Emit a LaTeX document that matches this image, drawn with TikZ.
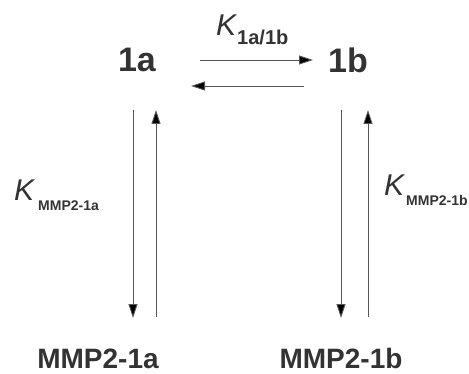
\documentclass[tikz,border=0pt]{standalone}
\usepackage{fontspec}
\setmainfont{Liberation Sans}
\usetikzlibrary{arrows.meta}
\definecolor{txt}{HTML}{333333}
\definecolor{ln}{HTML}{555555}
\begin{document}
\begin{tikzpicture}[x=1pt,y=1pt,
  big/.style={font=\fontsize{34}{36}\selectfont\bfseries, text=txt, inner sep=0pt},
  prod/.style={font=\fontsize{28}{32}\selectfont\bfseries, text=txt, inner sep=0pt},
  klab/.style={font=\fontsize{30}{32}\selectfont\itshape, text=txt, inner sep=0pt},
  arr/.style={draw=ln, line width=0.9pt, -{Triangle[length=14pt,width=9pt,fill=black]}}]
\useasboundingbox (0,0) rectangle (469,373);
\node[big] (a) at (137,313) {1a};
\node[big] (b) at (348,313) {1b};
\node[prod, anchor=base] (ma) at (98,5) {MMP2-1a};
\node[prod, anchor=base] (mb) at (341,5) {MMP2-1b};
\node[klab, anchor=base west] (k1) at (216,337) {K\kern1pt\fontsize{20}{22}\selectfont\upshape\bfseries\raisebox{-9pt}{1a/1b}};
\node[klab, anchor=base west] (k2) at (14,173) {K\kern4pt\fontsize{14}{16}\selectfont\upshape\bfseries\raisebox{-10pt}{MMP2-1a}};
\node[klab, anchor=base west] (k3) at (384,178) {K\kern2pt\fontsize{14}{16}\selectfont\upshape\bfseries\raisebox{-10pt}{MMP2-1b}};
\coordinate (t1) at (200,313);
\coordinate (t2) at (313,313);
\coordinate (u1) at (304,287);
\coordinate (u2) at (191,287);
\coordinate (la1) at (133,263);
\coordinate (la2) at (133,55);
\coordinate (lb1) at (156,56);
\coordinate (lb2) at (156,263);
\coordinate (ra1) at (341,263);
\coordinate (ra2) at (341,55);
\coordinate (rb1) at (368,56);
\coordinate (rb2) at (368,263);
\draw[arr] (t1) -- (t2);
\draw[arr] (u1) -- (u2);
\draw[arr] (la1) -- (la2);
\draw[arr] (lb1) -- (lb2);
\draw[arr] (ra1) -- (ra2);
\draw[arr] (rb1) -- (rb2);
\end{tikzpicture}
\end{document}
